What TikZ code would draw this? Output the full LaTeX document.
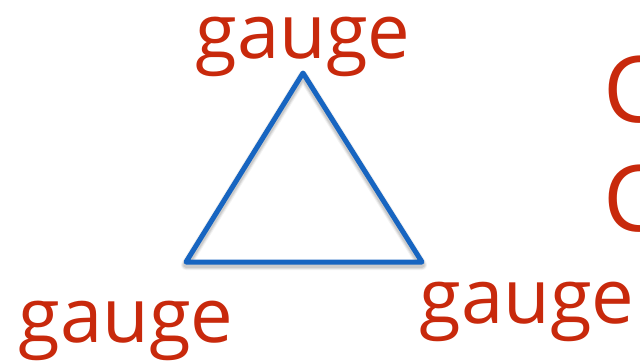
\documentclass[tikz,border=0pt]{standalone}
\usepackage{fontspec}
\setmainfont{Open Sans}
\definecolor{gred}{HTML}{C8290C}
\definecolor{gblue}{HTML}{1765C1}
\tikzset{
  lbl/.style={text=gred, font=\fontsize{76}{84}\selectfont, inner sep=0pt, anchor=base},
  biglbl/.style={text=gred, font=\fontsize{92}{100}\selectfont, inner sep=0pt, anchor=base west},
  tri/.style={draw=gblue, line width=5pt, line join=round},
  shade/.style={draw=black, line join=round}
}
\begin{document}
\begin{tikzpicture}[x=1pt,y=-1pt]
\useasboundingbox (0,0) rectangle (640,364);
\fill[white] (0,0) rectangle (640,364);
\coordinate (A) at (303,73);
\coordinate (B) at (186,262);
\coordinate (C) at (422,262);
% soft shadow
\foreach \w/\o in {10/0.05,8/0.07,6/0.09}{
  \draw[shade, line width=\w pt, opacity=\o] ([yshift=-3pt]A) -- ([yshift=-3pt]B) -- ([yshift=-3pt]C) -- cycle;
}
\draw[tri] (A) -- (B) -- (C) -- cycle;
\node[lbl] (top) at (303,58) {gauge};
\node[lbl] (bl) at (126,342) {gauge};
\node[lbl] (br) at (527,323) {gauge};
\node[biglbl] (c1) at (603,122) {C};
\node[biglbl] (c2) at (603,231) {C};
\end{tikzpicture}
\end{document}
